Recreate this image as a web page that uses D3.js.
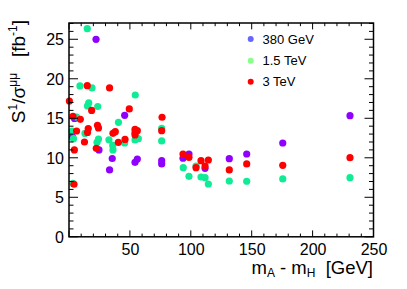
<!DOCTYPE html>
<html><head><meta charset="utf-8">
<script src="https://cdn.jsdelivr.net/npm/d3@7"></script>
<style>html,body{margin:0;padding:0;background:#fff;}svg{display:block;font-family:"Liberation Sans",Arial,Helvetica,sans-serif;}</style>
</head><body><svg id="c" width="407" height="289"></svg>
<script>
// ---- data ----
const seriesNames = ["380 GeV", "1.5 TeV", "3 TeV"];
const x380 = [22.2,45.7,4.5,2.9,24.6,35.5,33.3,54.2,56.1,76.1,76.1,93.6,98.5,111.7,131.6,145.9,175.5,230.7];
const y380 = [25.0,15.38,14.97,12.63,10.99,9.91,8.46,9.43,9.85,9.63,9.22,9.94,10.48,8.67,9.89,10.48,11.87,15.33];
const x15 = [15.0,9.0,18.9,54.4,16.2,15.2,23.6,6.2,40.6,2.5,13.1,3.7,23.0,24.2,32.8,35.9,36.1,45.7,54.2,56.9,76.1,76.1,93.8,98.5,104.3,108.4,111.7,114.4,131.6,145.9,175.5,230.7,3.3];
const y15 = [26.34,19.09,18.84,17.95,16.94,16.56,16.49,15.16,14.49,13.39,13.08,12.42,11.96,12.38,12.28,11.56,10.99,11.87,12.25,12.42,13.73,12.13,8.75,7.66,8.96,7.57,7.48,6.68,7.06,7.03,7.32,7.48,6.75];
const x3 = [15.0,33.3,0.3,18.6,49.5,76.4,3.3,9.3,6.2,15.8,15.2,23.4,24.2,12.7,36.1,38.0,40.5,46.0,22.4,4.4,54.2,56.1,54.2,54.2,76.1,93.6,98.5,108.4,114.4,104.3,111.7,131.6,145.9,175.5,230.7,4.1];
const y3 = [19.13,18.84,17.19,15.99,16.18,15.13,15.23,14.87,13.39,13.71,13.2,14.11,13.77,12.0,13.1,13.3,11.96,12.32,11.2,10.99,13.61,13.43,13.18,12.89,13.43,10.48,10.06,9.63,9.72,8.75,8.96,8.46,9.22,9.05,10.01,6.65];
const xTickLabels = [50,100,150,200,250];
const yTickLabels = [0,5,10,15,20,25];

// ---- layout ----
const L=69, R=373.5, T=23, B=236.8;
const svg = d3.select("#c");
const x = d3.scaleLinear().domain([0,250]).range([L,R]);
const y = d3.scaleLinear().domain([0,27.06]).range([B,T]);

const pointColors = ["#8f00ff","#10eb96","#ff0000"];
const legendColors = ["#6666ff","#88ff88","#ff0000"];

// points
const series = [[x380,y380],[x15,y15],[x3,y3]];
series.forEach((s,i)=>{
  svg.append("g").selectAll("circle").data(s[0].map((v,j)=>[v,s[1][j]])).join("circle")
    .attr("cx",d=>x(d[0])).attr("cy",d=>y(d[1])).attr("r",3.6).attr("fill",pointColors[i]);
});

// axes with inward ticks
const xMinor = d3.range(0,251,10), yMinor = d3.range(0,28,1);
function tickLines(g, vals, isX, side, len){
  g.selectAll(null).data(vals).join("line")
   .attr("x1",d=>isX?x(d):(side==="l"?L:R)).attr("x2",d=>isX?x(d):(side==="l"?L+len(d):R-len(d)))
   .attr("y1",d=>isX?(side==="b"?B:T):y(d)).attr("y2",d=>isX?(side==="b"?B-len(d):T+len(d)):y(d))
   .attr("stroke","#000").attr("stroke-width",1);
}
const ax = svg.append("g");
const xl = d=> d%50===0?6.4:3.2;
const yl = d=> d%5===0?9:4.5;
tickLines(ax,xMinor,true,"b",xl);
tickLines(ax,xMinor,true,"t",xl);
tickLines(ax,yMinor,false,"l",yl);
tickLines(ax,yMinor,false,"r",yl);
svg.append("rect").attr("x",L).attr("y",T).attr("width",R-L).attr("height",B-T)
  .attr("fill","none").attr("stroke","#000").attr("stroke-width",1.5);

// tick labels via d3 axis for positions
const gx = svg.append("g").attr("transform",`translate(0,${B})`)
  .call(d3.axisBottom(x).tickValues(xTickLabels).tickSize(0).tickPadding(0));
gx.select(".domain").remove();
gx.selectAll("text").attr("font-size",16).attr("font-family","Liberation Sans, Arial, sans-serif").attr("dy",null).attr("y",18.5).attr("fill","#000");
const gy = svg.append("g").attr("transform",`translate(${L},0)`)
  .call(d3.axisLeft(y).tickValues(yTickLabels).tickSize(0).tickPadding(0));
gy.select(".domain").remove();
gy.selectAll("text").attr("font-size",16).attr("font-family","Liberation Sans, Arial, sans-serif").attr("x",-5).attr("dy","0.35em").attr("fill","#000");

// x title
const xt = svg.append("text").attr("x",373).attr("y",273.5).attr("text-anchor","end")
  .attr("font-size",18.5).style("white-space","pre");
xt.append("tspan").text("m");
xt.append("tspan").attr("font-size",12).attr("dy",3.5).text("A");
xt.append("tspan").attr("dy",-3.5).text(" - m");
xt.append("tspan").attr("font-size",12).attr("dy",3.5).text("H");
xt.append("tspan").attr("dy",-3.5).text("  [GeV]");

// y title
const yt = svg.append("text").attr("transform","translate(24.5,20) rotate(-90)").attr("text-anchor","end")
  .attr("font-size",19).style("white-space","pre");
yt.append("tspan").text("S");
yt.append("tspan").attr("font-size",12).attr("dy",-8).text("1");
yt.append("tspan").attr("dy",8).text("/σ");
yt.append("tspan").attr("font-size",12).attr("dy",-8).text("μμ");
yt.append("tspan").attr("dy",8).text("   [fb");
yt.append("tspan").attr("font-size",12).attr("dy",-8).text("-1");
yt.append("tspan").attr("dy",8).text("]");

// legend
const legY = [39,60.7,81.7];
const lg = svg.append("g");
seriesNames.forEach((n,i)=>{
  lg.append("circle").attr("cx",250.7).attr("cy",legY[i]).attr("r",3).attr("fill",legendColors[i]);
  lg.append("text").attr("x",262.5).attr("y",legY[i]+4.6).attr("font-size",13).attr("fill","#000").text(n);
});
</script></body></html>
